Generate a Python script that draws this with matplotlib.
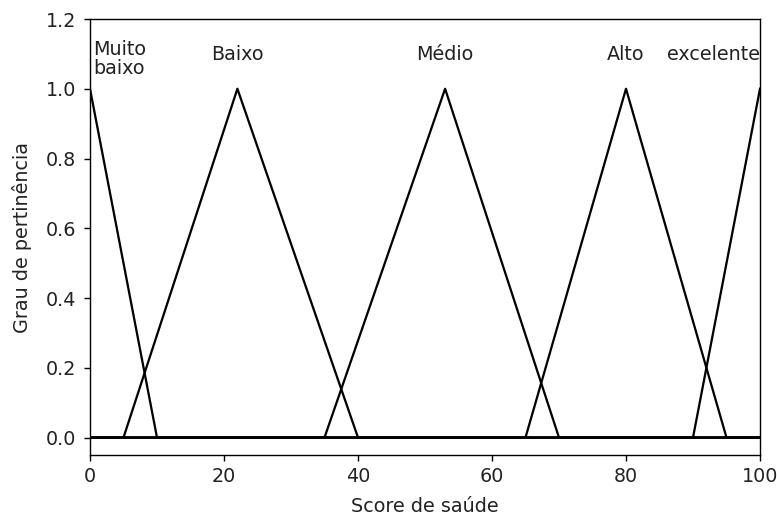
import numpy as np
import matplotlib
matplotlib.use("Agg")
import matplotlib.pyplot as plt

# Triangular membership functions for the health score
x_score = np.arange(0, 101, 1)
set_names = ["Muito\nbaixo", "Baixo", "Médio", "Alto", "excelente"]
set_abc = [
    (0, 0, 10),
    (5, 22, 40),
    (35, 53, 70),
    (65, 80, 95),
    (90, 100, 100),
]
label_x = [0.4, 22, 53, 80, 100]
label_y = [1.03, 1.07, 1.07, 1.07, 1.07]
label_ha = ["left", "center", "center", "center", "right"]


def trimf(x, abc):
    a, b, c = abc
    y = np.zeros_like(x, dtype=float)
    if b > a:
        m = (x >= a) & (x <= b)
        y[m] = (x[m] - a) / (b - a)
    if c > b:
        m = (x >= b) & (x <= c)
        y[m] = (c - x[m]) / (c - b)
    y[x == b] = 1.0
    return y


plt.rcParams["font.size"] = 11
dpi = 125
fig = plt.figure(figsize=(777 / dpi, 516 / dpi), dpi=dpi)
ax = fig.add_axes([90 / 777, 1 - 455 / 516, (760 - 90) / 777, (455 - 19) / 516])

for abc in set_abc:
    ax.plot(x_score, trimf(x_score, abc), color="black", lw=1.3)

for name, lx, ly, ha in zip(set_names, label_x, label_y, label_ha):
    ax.text(lx, ly, name, ha=ha, va="bottom", multialignment="center",
            fontsize=11, color="#222222", linespacing=1.0)

ax.set_xlim(0, 100)
ax.set_ylim(-0.05, 1.2)
ax.set_xticks([0, 20, 40, 60, 80, 100])
ax.set_yticks([0.0, 0.2, 0.4, 0.6, 0.8, 1.0, 1.2])
ax.set_xlabel("Score de saúde", color="#222222", labelpad=6)
ax.set_ylabel("Grau de pertinência", color="#222222", labelpad=8)
ax.tick_params(labelcolor="#222222")
ax.tick_params(axis="y", pad=4.5)

fig.savefig("out.png", dpi=dpi)
